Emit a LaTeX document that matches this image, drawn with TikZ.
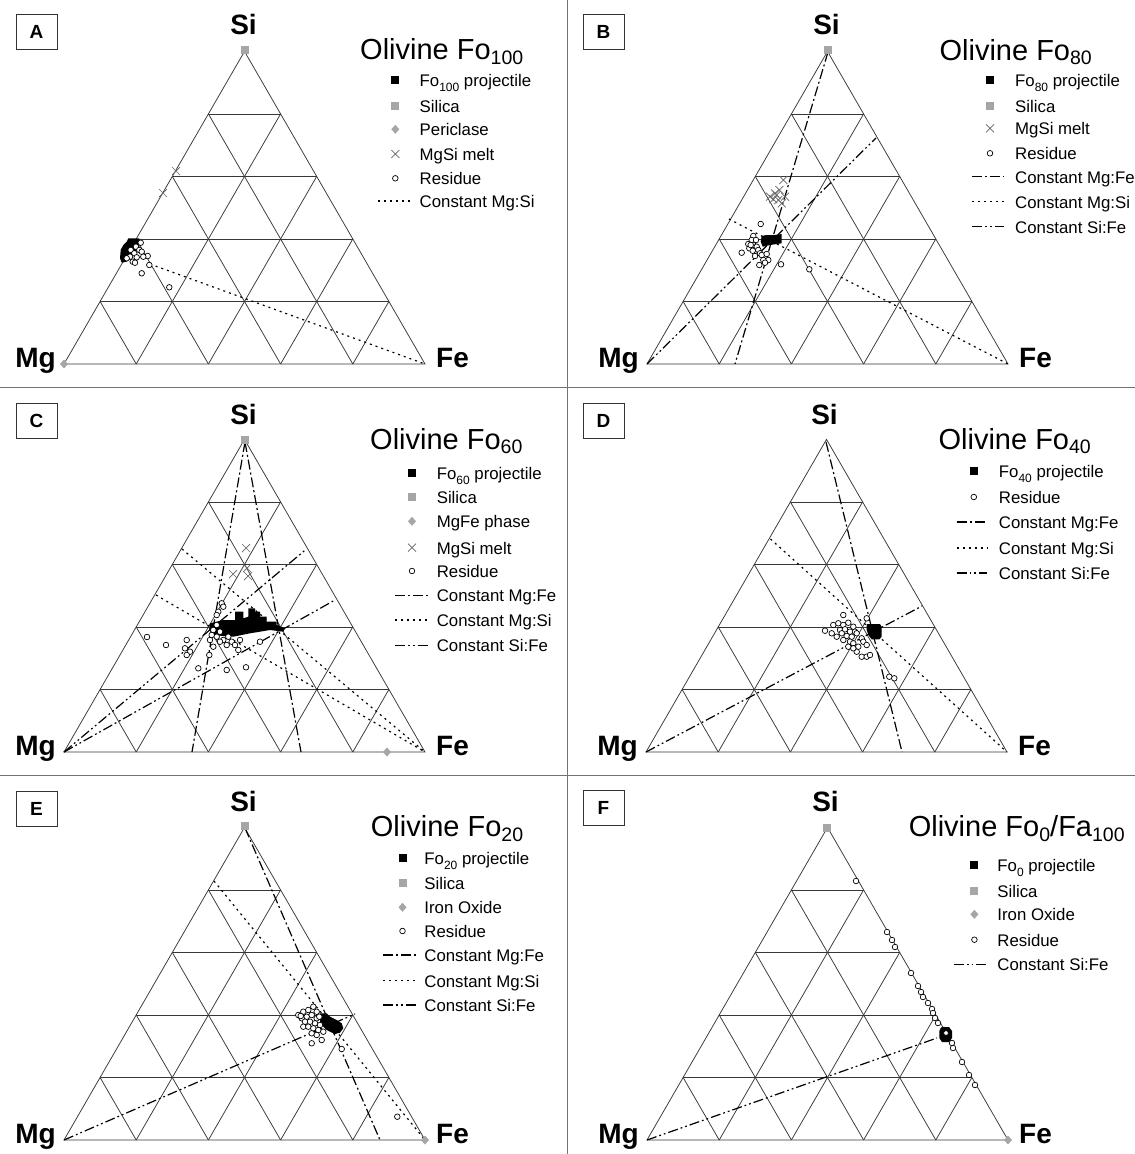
\documentclass[tikz,border=0pt]{standalone}
\usepackage{fontspec}
\setmainfont{Liberation Sans}
\definecolor{mkgray}{RGB}{166,166,166}
\definecolor{gridc}{RGB}{55,55,55}
\tikzset{
  gridline/.style={draw=gridc, line width=0.75pt},
  mgfe/.style={line width=1.2pt, dash pattern=on 10pt off 3pt on 2pt off 3pt},
  mgsi/.style={line width=1.2pt, dash pattern=on 2pt off 4pt},
  sife/.style={line width=1.2pt, dash pattern=on 10pt off 3pt on 1.8pt off 3pt on 1.8pt off 3pt},
  resid/.style={draw=black, fill=white, line width=0.7pt},
  meltx/.style={draw=black!60, line width=0.7pt},
  vlab/.style={font=\fontsize{28}{30}\selectfont\bfseries, inner sep=0pt},
  ttl/.style={font=\fontsize{29}{32}\selectfont, inner sep=0pt, anchor=base west},
  legt/.style={font=\fontsize{16.8}{18}\selectfont, inner sep=0pt, anchor=base west},
  pbox/.style={draw=black!80, line width=0.8pt, minimum width=41pt, minimum height=35pt, inner sep=0pt, font=\fontsize{19}{20}\selectfont\bfseries},
  sepline/.style={draw=black!55, line width=1pt},
}
\newcommand\tsubT[1]{\raisebox{-4.5pt}{\fontsize{19.5}{20}\selectfont #1}}
\newcommand\tsubL[1]{\raisebox{-5pt}{\fontsize{12}{13}\selectfont #1}}
\newcommand\ternplot[2]{%
  \begin{scope}[shift={(#1,#2)}]
    \draw[gridline] (0,0) -- (361,0) -- (180.5,-312.6) -- cycle;
    \foreach \t in {0.2,0.4,0.6,0.8}{
      \draw[gridline] ({\t*180.5},{-\t*312.6}) -- ({361-\t*180.5},{-\t*312.6});
      \draw[gridline] ({\t*361},0) -- ({\t*180.5},{-\t*312.6});
      \draw[gridline] ({\t*361},0) -- ({\t*361+(1-\t)*180.5},{-(1-\t)*312.6});
    }
  \end{scope}}
\newcommand\res[2]{\filldraw[resid] (#1,#2) circle (2.8);}
\newcommand\gsq{}
\renewcommand\gsq[2]{\fill[mkgray] (#1,#2) ++(-4,-4) rectangle ++(8,8);}
\newcommand\bsq[2]{\fill[black] (#1,#2) ++(-4,-4) rectangle ++(8,8);}
\newcommand\gdm[2]{\fill[mkgray] (#1,#2) ++(0,-4.5) -- ++(4,4.5) -- ++(-4,4.5) -- ++(-4,-4.5) -- cycle;}
\newcommand\mx[2]{\draw[meltx] (#1,#2) ++(-4,-4) -- ++(8,8) ++(-8,0) -- ++(8,-8);}
\begin{document}
\begin{tikzpicture}[x=1pt,y=-1pt]
\useasboundingbox (0,0) rectangle (1135,1154);
\fill[white] (0,0) rectangle (1135,1154);
% separators
\draw[sepline] (567,0) -- (567,1154);
\draw[sepline] (0,387) -- (1135,387);
\draw[sepline] (0,775) -- (1135,775);

% ================= Panel A =================
\ternplot{64}{364}
\node[pbox] (lA) at (36.5,31.5) {A};
\node[vlab, anchor=base] (siA) at (243.5,34) {Si};
\node[vlab, anchor=base east] (mgA) at (56,367) {Mg};
\node[vlab, anchor=base west] (feA) at (436,367) {Fe};
\draw[mgsi] (150,264) -- (425,364);
\gsq{245}{50}
\gdm{64}{364}
\mx{176}{171} \mx{163}{193}
\fill[black] (128.3,238.3) -- (139.3,238.3) -- (139.3,246.7) -- (136.7,250) -- (131.7,256.7) -- (126.7,261.7) -- (121.7,262.7) -- (120,258.3) -- (120.7,250) -- (123.3,245) -- (126.7,241.7) -- cycle;
\foreach \x/\y in {140.7/242.7,136/246.7,139.3/250,130.7/250,134.3/253.3,141.7/251.7,147.7/256,136.7/257.3,130/256.7,126.7/258.3,132.7/261.7,135/262.7,143.3/256.7,149.3/265,141.7/273.3,169.3/287.3}{\res{\x}{\y}}
\node[ttl] (tA) at (360,59.5) {Olivine Fo\tsubT{100}};
\bsq{395.3}{80} \node[legt] (a1) at (419.5,86.3) {Fo\tsubL{100} projectile};
\gsq{395.3}{105.7} \node[legt] (a2) at (419.5,112) {Silica};
\gdm{395.3}{129.3} \node[legt] (a3) at (419.5,135.6) {Periclase};
\mx{395.3}{154} \node[legt] (a4) at (419.5,160.3) {MgSi melt};
\res{395.3}{178.3} \node[legt] (a5) at (419.5,184.6) {Residue};
\draw[mgsi] (378,201) -- (410,201); \node[legt] (a6) at (419.5,207.3) {Constant Mg:Si};

% ================= Panel B =================
\ternplot{647}{364}
\node[pbox] (lB) at (603.5,31.5) {B};
\node[vlab, anchor=base] (siB) at (826.5,34) {Si};
\node[vlab, anchor=base east] (mgB) at (639,367) {Mg};
\node[vlab, anchor=base west] (feB) at (1019,367) {Fe};
\draw[mgfe] (828,52) -- (735,364);
\draw[sife] (647,364) -- (876,138);
\draw[mgsi] (729,219) -- (1008,364);
\gsq{828}{50}
\foreach \x/\y in {783.3/180,779.3/190,775/193.3,770/196.7,773.3/199.3,778.3/200,781.7/203.3,785/196.7,776.7/195}{\mx{\x}{\y}}
\fill[black] (761.7,236) -- (766.7,235) -- (775,235) -- (781.7,234) -- (781.7,243.3) -- (770,245) -- (762.7,246.7) -- (760.7,241.7) -- cycle;
\foreach \x/\y in {760.7/224,753.3/236,751.7/240,748.3/244,753.3/245,756.7/246.7,749.3/248.3,752.7/250.7,758.3/250,760/253.3,755/256,761.7/255,766.7/254,741.7/252.7,768.3/260,763.3/260,759.3/265,765/262.7,781/264.3,809.3/269.3,756/240,750.7/245}{\res{\x}{\y}}
\node[ttl] (tB) at (939.4,60) {Olivine Fo\tsubT{80}};
\bsq{990}{80} \node[legt] (b1) at (1015,86.3) {Fo\tsubL{80} projectile};
\gsq{990}{105.7} \node[legt] (b2) at (1015,112) {Silica};
\mx{990}{128.3} \node[legt] (b3) at (1015,134.6) {MgSi melt};
\res{990}{153.3} \node[legt] (b4) at (1015,159.6) {Residue};
\draw[mgfe] (972,176.7) -- (1004,176.7); \node[legt] (b5) at (1015,183) {Constant Mg:Fe};
\draw[mgsi] (972,201.7) -- (1004,201.7); \node[legt] (b6) at (1015,208) {Constant Mg:Si};
\draw[sife] (972,226.7) -- (1004,226.7); \node[legt] (b7) at (1015,233) {Constant Si:Fe};

% ================= Panel C =================
\ternplot{64}{752}
\node[pbox] (lC) at (36.5,420.5) {C};
\node[vlab, anchor=base] (siC) at (243.5,424) {Si};
\node[vlab, anchor=base east] (mgC) at (56,755) {Mg};
\node[vlab, anchor=base west] (feC) at (436,755) {Fe};
\draw[mgfe] (245,442) -- (192,752);
\draw[mgfe] (245,442) -- (301,752);
\draw[mgsi] (182,549) -- (425,752);
\draw[mgsi] (156,595) -- (425,752);
\draw[sife] (64,752) -- (306.5,549);
\draw[sife] (64,752) -- (335,600);
\gsq{245}{440}
\gdm{387}{752}
\mx{246}{548} \mx{233}{574} \mx{247}{568} \mx{248}{576}
\fill[black] (210,623.3) -- (223.3,620) -- (235,620) -- (235,611.7) -- (243.3,611.7) -- (243.3,618.3) -- (248.3,616.7) -- (248.3,608.3) -- (255,608.3) -- (255,611.7) -- (260,611.7) -- (260,616.7) -- (266.7,616.7) -- (266.7,621.7) -- (276.7,621.7) -- (276.7,625) -- (285,628.3) -- (283.3,631.7) -- (270,630) -- (260,631.7) -- (250,633.3) -- (241.7,635) -- (233.3,636.7) -- (223.3,636) -- (213.3,635) -- (209.3,630) -- cycle;
\foreach \x/\y in {221.7/603.3,218.3/611.7,216.7/625,213.3/630,211.7/635,216.7/636.7,220/631.7,223.3/640,228.3/636.7,231.7/641.7,235/645,238.3/650,226.7/645,220/641.7,213.3/646.7,210/640,240/640,260/641.7,186.7/640,185/648.3,190/651.7,186.7/655,209.3/655,198.3/668.3,226.7/670,246/667.3,223.3/606.7,216.7/615,147/637,166/645}{\res{\x}{\y}}
\node[ttl] (tC) at (370,449) {Olivine Fo\tsubT{60}};
\bsq{412}{472.7} \node[legt] (c1) at (436.6,479) {Fo\tsubL{60} projectile};
\gsq{412}{497} \node[legt] (c2) at (436.6,503.3) {Silica};
\gdm{412}{521.3} \node[legt] (c3) at (436.6,527.6) {MgFe phase};
\mx{412}{547.7} \node[legt] (c4) at (436.6,554) {MgSi melt};
\res{412}{571} \node[legt] (c5) at (436.6,577.3) {Residue};
\draw[mgfe] (395,595.3) -- (428,595.3); \node[legt] (c6) at (436.6,601.6) {Constant Mg:Fe};
\draw[mgsi] (395,620) -- (428,620); \node[legt] (c7) at (436.6,626.3) {Constant Mg:Si};
\draw[sife] (395,645.3) -- (428,645.3); \node[legt] (c8) at (436.6,651.6) {Constant Si:Fe};

% ================= Panel D =================
\ternplot{646}{752}
\node[pbox] (lD) at (603.5,420.5) {D};
\node[vlab, anchor=base] (siD) at (824.5,424) {Si};
\node[vlab, anchor=base east] (mgD) at (638,755) {Mg};
\node[vlab, anchor=base west] (feD) at (1018,755) {Fe};
\draw[mgfe] (826,442) -- (902,752);
\draw[mgsi] (770.5,539) -- (1007,752);
\draw[sife] (646,752) -- (922,606);
\fill[black] (866.7,624) -- (880,624) -- (881.7,626.7) -- (881.7,636.7) -- (879.3,639.3) -- (871.7,639.3) -- (868.3,635) -- (866.7,630) -- cycle;
\foreach \x/\y in {843.3/615,866.7/618.3,833.3/625,838.3/623.3,843.3/625,848.3/622.7,853.3/626.7,840/630,845/629.3,850/631.7,855/631.7,825/630.7,831.7/633.3,836.7/636.7,841.7/633.3,846.7/636,851.7/636.7,856.7/633.3,861.7/638.3,843.3/640,850/641.7,853.3/643.3,858.3/646.7,863.3/641.7,866.7/645,856.7/651.7,861.7/656.7,866.7/656.7,870/655,889.3/676.7,894.3/678.3,848.3/646.7,853.3/648.3}{\res{\x}{\y}}
\node[ttl] (tD) at (938.4,449) {Olivine Fo\tsubT{40}};
\bsq{973.8}{471.3} \node[legt] (d1) at (998.7,477.6) {Fo\tsubL{40} projectile};
\res{973.8}{497} \node[legt] (d2) at (998.7,503.3) {Residue};
\draw[mgfe] (956.5,522) -- (987,522); \node[legt] (d3) at (998.7,528.3) {Constant Mg:Fe};
\draw[mgsi] (956.5,548) -- (987,548); \node[legt] (d4) at (998.7,554.3) {Constant Mg:Si};
\draw[sife] (956.5,573) -- (987,573); \node[legt] (d5) at (998.7,579.3) {Constant Si:Fe};

% ================= Panel E =================
\ternplot{64}{1140}
\node[pbox] (lE) at (36.5,808.5) {E};
\node[vlab, anchor=base] (siE) at (243.5,811) {Si};
\node[vlab, anchor=base east] (mgE) at (56,1143) {Mg};
\node[vlab, anchor=base west] (feE) at (436,1143) {Fe};
\draw[mgfe] (245,828) -- (380,1140);
\draw[mgsi] (214,881) -- (425,1140);
\draw[sife] (64,1140) -- (355,1014);
\gsq{245}{826}
\gdm{425}{1140}
\fill[black] (320,1013.3) -- (326.7,1013.3) -- (330,1016.7) -- (336.7,1020) -- (341.7,1023.3) -- (343.3,1028.3) -- (340,1032.7) -- (335,1034) -- (330,1031.7) -- (326.7,1030) -- (323.3,1026.7) -- (320,1021.7) -- cycle;
\foreach \x/\y in {298.3/1015,303.3/1011.7,308.3/1010,313.3/1006.7,316.7/1011.7,301.7/1018.3,306.7/1016.7,311.7/1015,316.7/1018.3,305/1021.7,310/1021.7,315/1023.3,320/1025,303.3/1026.7,308.3/1026.7,313.3/1028.3,318.3/1030,323.3/1031.7,311.7/1033.3,316.7/1035,321.7/1040,311.7/1043.3,341.7/1049,397.3/1116.7,300.7/1016,319.3/1016.7}{\res{\x}{\y}}
\node[ttl] (tE) at (370.7,836.7) {Olivine Fo\tsubT{20}};
\bsq{402.5}{858.3} \node[legt] (e1) at (424.2,864.6) {Fo\tsubL{20} projectile};
\gsq{402.5}{882.7} \node[legt] (e2) at (424.2,889) {Silica};
\gdm{402.5}{907.3} \node[legt] (e3) at (424.2,913.6) {Iron Oxide};
\res{402.5}{931} \node[legt] (e4) at (424.2,937.3) {Residue};
\draw[mgfe] (383,955) -- (416,955); \node[legt] (e5) at (424.2,961.3) {Constant Mg:Fe};
\draw[mgsi] (383,980.7) -- (416,980.7); \node[legt] (e6) at (424.2,987) {Constant Mg:Si};
\draw[sife] (383,1005) -- (416,1005); \node[legt] (e7) at (424.2,1011.3) {Constant Si:Fe};

% ================= Panel F =================
\ternplot{647}{1140}
\node[pbox] (lF) at (603.5,807.5) {F};
\node[vlab, anchor=base] (siF) at (825.5,811) {Si};
\node[vlab, anchor=base east] (mgF) at (639,1143) {Mg};
\node[vlab, anchor=base west] (feF) at (1019,1143) {Fe};
\draw[sife] (647,1140) -- (937,1038);
\gsq{827}{828}
\gdm{1008}{1140}
\foreach \x/\y in {856/881,887/932,892/940,895/947,911/973,918/986,921/992,923/997,928/1003,932/1009,933/1013,935/1018,938/1023,943/1030,948/1038,952/1043,953/1048,962/1062,969/1075,975/1085}{\res{\x}{\y}}
\fill[black] (942,1027) -- (949,1027) -- (952,1031) -- (952,1038) -- (949,1042) -- (942,1042) -- (939.3,1038) -- (939.3,1031) -- cycle;
\filldraw[resid] (946,1033) circle (2.4);
\node[ttl] (tF) at (908.6,836.7) {Olivine Fo\tsubT{0}/Fa\tsubT{100}};
\bsq{974.4}{865} \node[legt] (f1) at (997.2,871.3) {Fo\tsubL{0} projectile};
\gsq{974.4}{890.7} \node[legt] (f2) at (997.2,897) {Silica};
\gdm{974.4}{914.3} \node[legt] (f3) at (997.2,920.6) {Iron Oxide};
\res{974.4}{939.7} \node[legt] (f4) at (997.2,946) {Residue};
\draw[sife] (953.8,964.3) -- (989,964.3); \node[legt] (f5) at (997.2,970.6) {Constant Si:Fe};
\end{tikzpicture}
\end{document}
